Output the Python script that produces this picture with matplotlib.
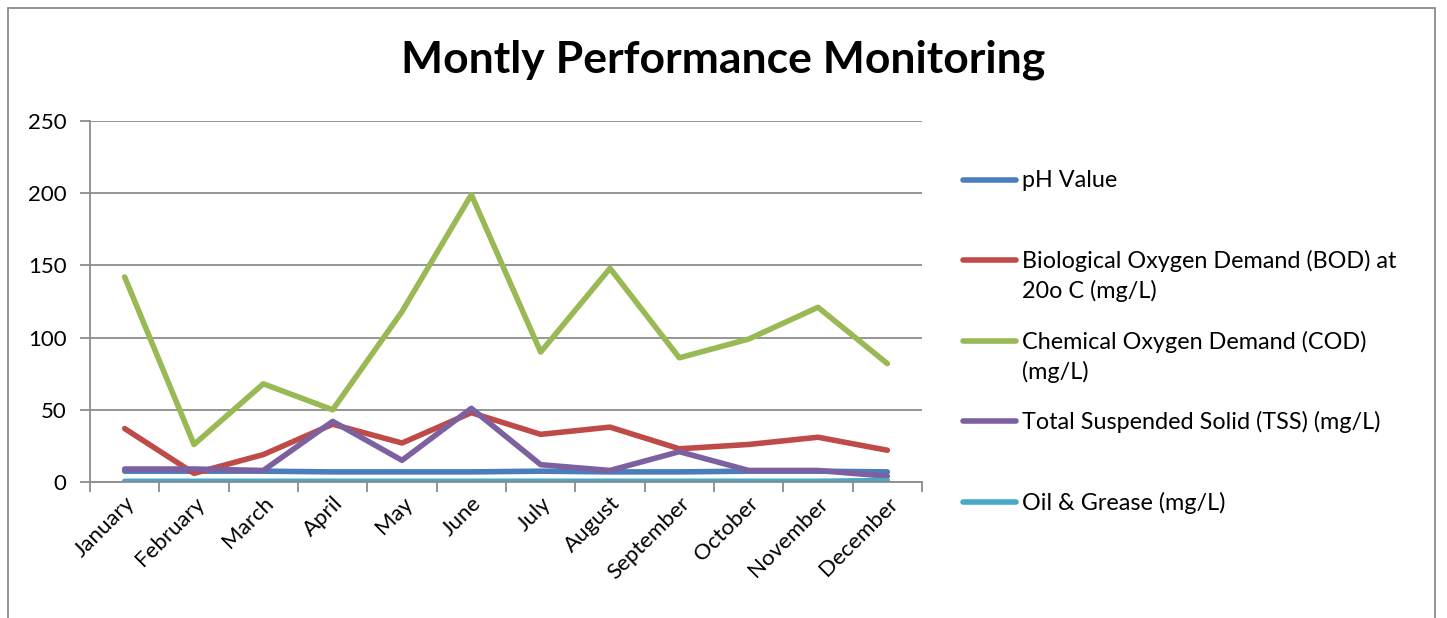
import numpy as np
import matplotlib.pyplot as plt
from matplotlib.lines import Line2D
from matplotlib.patches import Rectangle

plt.rcParams['font.family'] = ['Lato', 'DejaVu Sans']

# datos
months = ["January", "February", "March", "April", "May", "June", "July",
          "August", "September", "October", "November", "December"]
ph = [7.5, 7.5, 7.5, 7, 7, 7, 7.5, 7, 7, 7.5, 7.5, 7]
bod = [37, 6, 19, 40, 27, 48, 33, 38, 23, 26, 31, 22]
cod = [142, 26, 68, 50, 118, 199, 90, 148, 86, 99, 121, 82]
tss = [9, 9, 8, 42, 15, 51, 12, 8, 21, 8, 8, 4]
oil = [0.5, 0.5, 0.5, 0.5, 0.5, 0.5, 0.5, 0.5, 0.5, 0.5, 0.5, 1]

labels = ["pH Value", "Biological Oxygen Demand (BOD) at\n20o C (mg/L)",
          "Chemical Oxygen Demand (COD)\n(mg/L)", "Total Suspended Solid (TSS) (mg/L)",
          "Oil & Grease (mg/L)"]
colors = ["#4A7EBB", "#BE4B48", "#98B954", "#7D60A0", "#46AAC5"]
series = [ph, bod, cod, tss, oil]

W, H = 1447, 618
fig = plt.figure(figsize=(W / 100, H / 100), dpi=100)
ax = fig.add_axes([90 / W, 1 - 482 / H, 832 / W, 361 / H])

x = np.arange(len(months))
for s, c in zip(series, colors):
    ax.plot(x, s, color=c, lw=4, solid_capstyle='round', solid_joinstyle='round')

ax.set_xlim(-0.5, 11.5)
ax.set_ylim(0, 250)
ax.set_yticks(np.arange(0, 251, 50))
ax.grid(axis='y', color='#8c8c8c', lw=1.3)
ax.set_axisbelow(True)
for sp in ['top', 'right']:
    ax.spines[sp].set_visible(False)
for sp in ['left', 'bottom']:
    ax.spines[sp].set_color('#8c8c8c')
    ax.spines[sp].set_linewidth(1.3)

ax.set_xticks(np.arange(-0.5, 12, 1))
ax.set_xticklabels([])
ax.set_xticks(x, minor=True)
ax.set_xticklabels(months, minor=True, rotation=45, ha='right', rotation_mode='anchor', fontsize=16)
ax.tick_params(axis='x', which='minor', length=0, pad=8)
ax.tick_params(axis='x', which='major', length=7, color='#8c8c8c', width=1.3)
ax.tick_params(axis='y', length=7, color='#8c8c8c', width=1.3, labelsize=16, pad=10)

fig.text(723 / W, 1 - 60 / H, "Montly Performance Monitoring", ha='center', va='center',
         fontsize=32, fontweight='bold')

# leyenda
ys = [180, 260, 341, 421, 502]
for y, lab, c in zip(ys, labels, colors):
    fig.add_artist(Line2D([963 / W, 1016 / W], [1 - y / H, 1 - y / H], color=c, lw=4,
                          solid_capstyle='round'))
    fig.text(1022 / W, 1 - (y - 10) / H, lab, ha='left', va='top', fontsize=16.8,
             linespacing=1.45)

fig.add_artist(Rectangle((8 / W, -0.1), 1427 / W, 1 - 8 / H + 0.1, transform=fig.transFigure,
                         fill=False, edgecolor='#8c8c8c', lw=1.3))

fig.savefig("out.png", dpi=100)
